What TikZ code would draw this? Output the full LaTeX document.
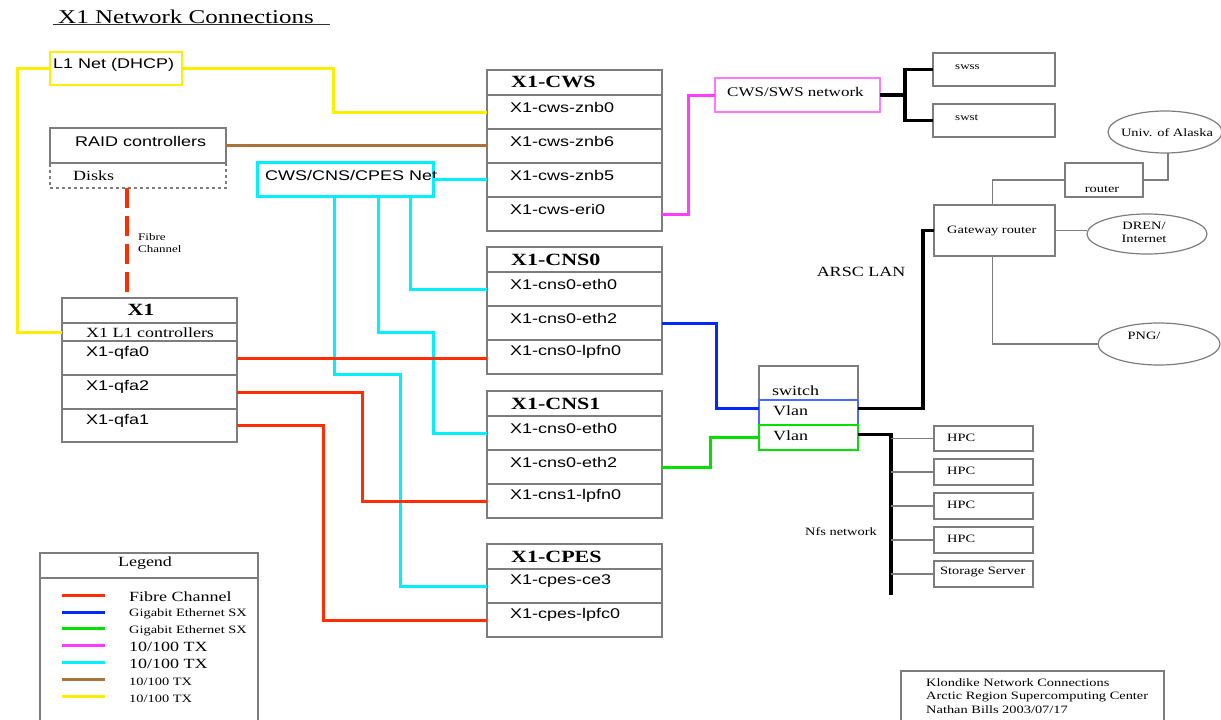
\documentclass[tikz,border=0pt]{standalone}
\usepackage{fontspec}
\setmainfont{Liberation Serif}
\newfontfamily\arialf{Liberation Sans}
\usetikzlibrary{calc,shapes.geometric}
\newcommand\sq[1]{\scalebox{1}[0.78]{#1}}
\definecolor{fcred}{RGB}{255,45,0}
\definecolor{gbblue}{RGB}{0,40,255}
\definecolor{gbgreen}{RGB}{0,225,0}
\definecolor{magc}{RGB}{255,60,255}
\definecolor{cyanc}{RGB}{0,240,255}
\definecolor{brownc}{RGB}{170,115,60}
\definecolor{yellowc}{RGB}{255,238,0}
\definecolor{bxgray}{RGB}{125,125,125}
\tikzset{
  rowbox/.style={draw=bxgray, line width=1.6pt, anchor=north west, inner sep=0pt, outer sep=0pt, minimum width=175pt},
  plainbox/.style={draw=bxgray, line width=1.5pt, anchor=north west, inner sep=0pt, outer sep=0pt},
  ell/.style={draw=bxgray, line width=1.2pt, ellipse, inner sep=0pt, outer sep=0pt},
  serL/.style={font=\fontsize{18}{20}\selectfont, inner sep=0pt, anchor=west},
  serS/.style={font=\fontsize{14.4}{16}\selectfont, inner sep=0pt, anchor=west},
  sanL/.style={font=\arialf\fontsize{18}{20}\selectfont, inner sep=0pt, anchor=west},
  ttlB/.style={font=\bfseries\fontsize{22}{24}\selectfont, inner sep=0pt, anchor=west},
  fibre/.style={draw=fcred, line width=3pt},
  gigb/.style={draw=gbblue, line width=3pt},
  gigg/.style={draw=gbgreen, line width=3pt},
  tenm/.style={draw=magc, line width=3pt},
  tenc/.style={draw=cyanc, line width=3pt},
  tenb/.style={draw=brownc, line width=3pt},
  teny/.style={draw=yellowc, line width=3pt},
  blk/.style={draw=black, line width=3.5pt},
  gryl/.style={draw=bxgray, line width=1.6pt},
}
\begin{document}
\begin{tikzpicture}[x=1pt,y=-1pt]
\useasboundingbox[fill=white] (0,0) rectangle (1221,720);

% title
\node[font=\fontsize{25}{27}\selectfont, inner sep=0pt, anchor=west] (title) at (58,17) {\sq{X1 Network Connections}};
\draw[line width=1pt, black!80] (53,24.5) -- (330,24.5);

% L1 net
\node[plainbox, draw=yellowc, minimum width=132pt, minimum height=33pt] (l1net) at (50,52) {};
\node[sanL] (l1t) at (53,65) {\sq{L1 Net (DHCP)}};

% RAID
\node[plainbox, minimum width=176pt, minimum height=35pt] (raid) at (50,128) {};
\node[plainbox, dashed, minimum width=176pt, minimum height=25pt] (disks) at (50,163) {};
\node[sanL] (raidt) at (75,141) {\sq{RAID controllers}};
\node[serL] (diskst) at (73,176) {\sq{Disks}};
\node[serS, font=\fontsize{13}{14}\selectfont] (fib1) at (138,237) {\sq{Fibre}};
\node[serS, font=\fontsize{13}{14}\selectfont] (fib2) at (138,249) {\sq{Channel}};

% CWS/CNS/CPES net
\node[plainbox, draw=cyanc, line width=3pt, minimum width=176pt, minimum height=34pt] (cnet) at (257,162) {};
\node[sanL] (cnett) at (265,175) {\sq{CWS/CNS/CPES Net}};

% X1
\node[rowbox, minimum height=25pt] (x1T) at (62,298) {};
\node[rowbox, minimum height=18pt] (x1L) at (62,323) {};
\node[rowbox, minimum height=34pt] (q0) at (62,341) {};
\node[rowbox, minimum height=34pt] (q2) at (62,375) {};
\node[rowbox, minimum height=33pt] (q1) at (62,409) {};
\node[ttlB, anchor=center] (x1Tt) at (141,310) {\sq{X1}};
\node[serL, anchor=center] (x1Lt) at (150,333) {\sq{X1 L1 controllers}};
\node[sanL] (q0t) at ($(q0.west)+(24,-5)$) {\sq{X1-qfa0}};
\node[sanL] (q2t) at ($(q2.west)+(24,-5)$) {\sq{X1-qfa2}};
\node[sanL] (q1t) at ($(q1.west)+(24,-5)$) {\sq{X1-qfa1}};

% X1-CWS
\node[rowbox, minimum height=25pt] (cwsT) at (487,70) {};
\node[rowbox, minimum height=34pt] (cws0) at (487,95) {};
\node[rowbox, minimum height=34pt] (cws6) at (487,129) {};
\node[rowbox, minimum height=34pt] (cws5) at (487,163) {};
\node[rowbox, minimum height=34pt] (cwse) at (487,197) {};
\node[ttlB] (cwsTt) at ($(cwsT.west)+(24,-1)$) {\sq{X1-CWS}};
\node[sanL] (cws0t) at ($(cws0.west)+(23,-5)$) {\sq{X1-cws-znb0}};
\node[sanL] (cws6t) at ($(cws6.west)+(23,-5)$) {\sq{X1-cws-znb6}};
\node[sanL] (cws5t) at ($(cws5.west)+(23,-5)$) {\sq{X1-cws-znb5}};
\node[sanL] (cwset) at ($(cwse.west)+(23,-5)$) {\sq{X1-cws-eri0}};

% X1-CNS0
\node[rowbox, minimum height=25pt] (cns0T) at (487,247) {};
\node[rowbox, minimum height=34pt] (cns0a) at (487,272) {};
\node[rowbox, minimum height=34pt] (cns0b) at (487,306) {};
\node[rowbox, minimum height=34pt] (cns0l) at (487,340) {};
\node[ttlB] (cns0Tt) at ($(cns0T.west)+(24,0)$) {\sq{X1-CNS0}};
\node[sanL] (cns0at) at ($(cns0a.west)+(23,-5)$) {\sq{X1-cns0-eth0}};
\node[sanL] (cns0bt) at ($(cns0b.west)+(23,-5)$) {\sq{X1-cns0-eth2}};
\node[sanL] (cns0lt) at ($(cns0l.west)+(23,-5)$) {\sq{X1-cns0-lpfn0}};

% X1-CNS1
\node[rowbox, minimum height=25pt] (cns1T) at (487,391) {};
\node[rowbox, minimum height=34pt] (cns1a) at (487,416) {};
\node[rowbox, minimum height=34pt] (cns1b) at (487,450) {};
\node[rowbox, minimum height=34pt] (cns1l) at (487,484) {};
\node[ttlB] (cns1Tt) at ($(cns1T.west)+(24,0)$) {\sq{X1-CNS1}};
\node[sanL] (cns1at) at ($(cns1a.west)+(23,-5)$) {\sq{X1-cns0-eth0}};
\node[sanL] (cns1bt) at ($(cns1b.west)+(23,-5)$) {\sq{X1-cns0-eth2}};
\node[sanL] (cns1lt) at ($(cns1l.west)+(23,-5)$) {\sq{X1-cns1-lpfn0}};

% X1-CPES
\node[rowbox, minimum height=25pt] (cpesT) at (487,544) {};
\node[rowbox, minimum height=34pt] (cpesa) at (487,569) {};
\node[rowbox, minimum height=34pt] (cpesb) at (487,603) {};
\node[ttlB] (cpesTt) at ($(cpesT.west)+(24,0)$) {\sq{X1-CPES}};
\node[sanL] (cpesat) at ($(cpesa.west)+(23,-5)$) {\sq{X1-cpes-ce3}};
\node[sanL] (cpesbt) at ($(cpesb.west)+(23,-5)$) {\sq{X1-cpes-lpfc0}};

% CWS/SWS network
\node[plainbox, draw=magc!70, line width=2pt, minimum width=165pt, minimum height=34pt] (csw) at (715,78) {};
\node[serL, font=\fontsize{17}{19}\selectfont] (cswt) at (727,92) {\sq{CWS/SWS network}};
\node[plainbox, minimum width=122pt, minimum height=33pt] (swss) at (933,53) {};
\node[plainbox, minimum width=122pt, minimum height=33pt] (swst) at (933,104) {};
\node[serS, font=\fontsize{13}{14}\selectfont] (swsst) at (955,67) {\sq{swss}};
\node[serS, font=\fontsize{13}{14}\selectfont] (swstt) at (955,118) {\sq{swst}};

% routers
\node[ell, minimum width=114pt, minimum height=42pt] (univ) at (1165,132) {};
\node[serS, anchor=center] (univt) at (1167,133) {\sq{Univ. of Alaska}};
\node[plainbox, minimum width=78pt, minimum height=34pt] (router) at (1065,163) {};
\node[serS, anchor=center] (routert) at (1102,189) {\sq{router}};
\node[plainbox, minimum width=121pt, minimum height=51pt] (gw) at (934,205) {};
\node[serS] (gwt) at (947,231) {\sq{Gateway router}};
\node[ell, minimum width=120pt, minimum height=40pt] (dren) at (1147,234) {};
\node[serS, anchor=center] (drent1) at (1144,226) {\sq{DREN/}};
\node[serS, anchor=center] (drent2) at (1144,239) {\sq{Internet}};
\node[ell, minimum width=122pt, minimum height=42pt] (png) at (1159,344) {};
\node[serS, anchor=center] (pngt) at (1144,336) {\sq{PNG/}};
\node[serL, anchor=center] (arsc) at (861,272) {\sq{ARSC LAN}};

% switch
\node[plainbox, minimum width=99pt, minimum height=34pt] (sw) at (759,366) {};
\node[plainbox, draw=gbblue!70, line width=2pt, minimum width=99pt, minimum height=25pt] (vlan1) at (759,400) {};
\node[plainbox, draw=gbgreen, line width=2pt, minimum width=99pt, minimum height=25pt] (vlan2) at (759,425) {};
\node[serL] (swt) at (772,391) {\sq{switch}};
\node[serL] (vlan1t) at (773,411) {\sq{Vlan}};
\node[serL] (vlan2t) at (773,436) {\sq{Vlan}};

% HPC
\node[plainbox, minimum width=99pt, minimum height=25pt] (hpc1) at (934,426) {};
\node[plainbox, minimum width=99pt, minimum height=26pt] (hpc2) at (934,459) {};
\node[plainbox, minimum width=99pt, minimum height=26pt] (hpc3) at (934,493) {};
\node[plainbox, minimum width=99pt, minimum height=26pt] (hpc4) at (934,527) {};
\node[plainbox, minimum width=99pt, minimum height=26pt] (stor) at (934,561) {};
\node[serS] (hpc1t) at ($(hpc1.west)+(13,-1)$) {\sq{HPC}};
\node[serS] (hpc2t) at ($(hpc2.west)+(13,-1)$) {\sq{HPC}};
\node[serS] (hpc3t) at ($(hpc3.west)+(13,-1)$) {\sq{HPC}};
\node[serS] (hpc4t) at ($(hpc4.west)+(13,-1)$) {\sq{HPC}};
\node[serS] (stort) at ($(stor.west)+(6,-2)$) {\sq{Storage Server}};
\node[serS, anchor=center] (nfs) at (841,532) {\sq{Nfs network}};

% footnote
\node[plainbox, minimum width=263pt, minimum height=60pt] (foot) at (901,671) {};
\node[serS] (foot1) at (926,683) {\sq{Klondike Network Connections}};
\node[serS] (foot2) at (926,697) {\sq{Arctic Region Supercomputing Center}};
\node[serS] (foot3) at (926,710) {\sq{Nathan Bills 2003/07/17}};

% legend
\node[plainbox, minimum width=218pt, minimum height=25pt] (legT) at (40,553) {};
\node[plainbox, minimum width=218pt, minimum height=160pt] (legB) at (40,578) {};
\node[serL, anchor=center] (legt) at (145,563) {\sq{Legend}};
\draw[fibre] (62,595) -- (105,595);
\draw[gigb] (62,612) -- (105,612);
\draw[gigg] (62,628) -- (105,628);
\draw[tenm] (62,645) -- (105,645);
\draw[tenc] (62,662) -- (105,662);
\draw[tenb] (62,679) -- (105,679);
\draw[teny] (62,696) -- (105,696);
\node[serL] (lg1) at (129,597) {\sq{Fibre Channel}};
\node[serS] (lg2) at (129,614) {\sq{Gigabit Ethernet SX}};
\node[serS] (lg3) at (129,631) {\sq{Gigabit Ethernet SX}};
\node[serL] (lg4) at (129,647) {\sq{10/100 TX}};
\node[serL] (lg5) at (129,664) {\sq{10/100 TX}};
\node[serS] (lg6) at (129,682) {\sq{10/100 TX}};
\node[serS] (lg7) at (129,699) {\sq{10/100 TX}};

% ---------- connectors ----------
% yellow
\draw[teny] (l1net.west) -- ++(-33,0) |- (x1L.west);
\draw[teny] (l1net.east) -- ++(151,0) |- (cws0.west);
% brown
\draw[tenb] (raid.east) -- (raid.east -| cws6.west);
% fibre dashed
\draw[fibre, line width=4pt, dash pattern=on 20pt off 8pt] ($(disks.south)+(-11,0)$) -- ($(x1T.north)+(-22.5,0)$);
% cyan
\draw[tenc] (cnet.east) -- (cnet.east -| cws5.west);
\draw[tenc] ($(cnet.south west)+(153,0)$) |- (cns0a.west);
\draw[tenc] ($(cnet.south west)+(121,0)$) -- ++(0,136) -- ++(55,0) |- (cns1a.west);
\draw[tenc] ($(cnet.south west)+(77,0)$) -- ++(0,178) -- ++(66,0) |- (cpesa.west);
% red
\draw[fibre] (q0.east) -- (q0.east -| cns0l.west);
\draw[fibre] (q2.east) -- ++(125,0) |- (cns1l.west);
\draw[fibre] (q1.east) -- ++(86,0) |- (cpesb.west);
% magenta
\draw[tenm] (cwse.east) -- ++(26,0) |- (csw.west);
% black to swss / swst
\draw[blk] (csw.east) -- ++(25,0) coordinate (bj);
\draw[blk] (swss.west) -| (bj) |- (swst.west);
% gray router lines
\draw[gryl] (router.east) -| ($(univ.south)+(3,0)$);
\draw[gryl] (router.west) -| ($(gw.north)+(-2,0)$);
\draw[gryl] (gw.east) -- (gw.east -| dren.west);
\draw[gryl] ($(gw.south)+(-2,0)$) |- (png.west);
% ARSC LAN black
\draw[blk] (gw.west) -- ++(-11,0) |- ($(vlan1.east)+(0,-4)$);
% blue, green
\draw[gigb] (cns0b.east) -- ++(54,0) |- ($(vlan1.west)+(0,-4)$);
\draw[gigg] (cns1b.east) -- ++(48,0) |- (vlan2.west);
% nfs bus
\draw[blk] ($(vlan2.east)+(0,-3)$) -- ++(33,0) coordinate (bus) -- ++(0,160);
\draw[gryl] (hpc1.west -| bus) -- (hpc1.west);
\draw[gryl] (hpc2.west -| bus) -- (hpc2.west);
\draw[gryl] (hpc3.west -| bus) -- (hpc3.west);
\draw[gryl] (hpc4.west -| bus) -- (hpc4.west);
\draw[gryl] (stor.west -| bus) -- (stor.west);
\end{tikzpicture}
\end{document}
